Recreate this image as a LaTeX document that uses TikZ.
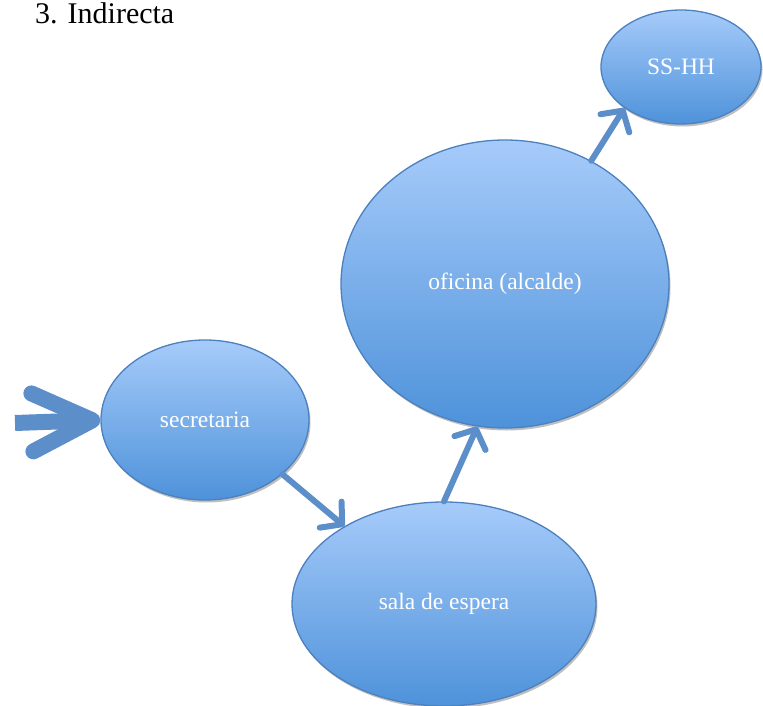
\documentclass[tikz,border=0pt]{standalone}
\usepackage{fontspec}
\setmainfont{Liberation Serif}
\usetikzlibrary{shapes.geometric,arrows.meta,shadows}
\definecolor{ctop}{RGB}{166,203,250}
\definecolor{cbot}{RGB}{78,146,218}
\definecolor{cedge}{RGB}{76,128,190}
\definecolor{carrow}{RGB}{92,143,201}
\tikzset{
  bubble/.style={ellipse, draw=cedge, line width=1.3pt, top color=ctop, bottom color=cbot,
    inner sep=0pt, text=white, font=\fontsize{23.5}{28}\selectfont,
    drop shadow={shadow xshift=1.5pt, shadow yshift=-2.5pt, opacity=0.25, fill=black}},
  link/.style={draw=carrow, line width=6pt, line cap=round,
    -{Straight Barb[length=15pt, width=34pt, round]}},
  bigarrow/.style={draw=carrow, line width=16pt,
    -{Straight Barb[length=60pt, width=58pt, round]}},
}
\begin{document}
\begin{tikzpicture}[x=1pt, y=-1pt]
\useasboundingbox (0,0) rectangle (763,706);
\node[anchor=base west, font=\fontsize{30}{36}\selectfont, inner sep=0pt] (title) at (35,23.5) {3. Indirecta};
\node[bubble, minimum width=160pt, minimum height=114pt] (ss) at (681,67) {SS-HH};
\node[bubble, minimum width=328pt, minimum height=288pt] (of) at (505,284) {oficina (alcalde)};
\node[bubble, minimum width=208pt, minimum height=160pt] (sec) at (205,420) {secretaria};
\node[bubble, minimum width=304pt, minimum height=204pt] (sala) at (444,604) {sala de espera};
\coordinate (in) at (15,423);
\draw[bigarrow] (in) -- (sec.west);
\draw[link] (sec.-35) -- (sala.142);
\draw[link] (sala.90) -- (of.-101);
\draw[link] (of.55) -- (ss.216);
\end{tikzpicture}
\end{document}
